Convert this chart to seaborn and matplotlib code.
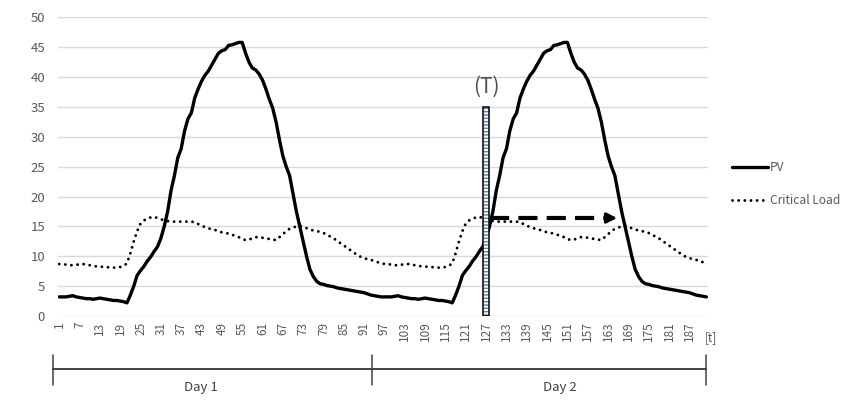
import matplotlib
matplotlib.use("Agg")
import matplotlib.pyplot as plt
from matplotlib.lines import Line2D
import numpy as np
import pandas as pd
import seaborn as sns

# one day of 15-min values (96 steps), the chart shows two identical days
pv_day = [3.2, 3.2, 3.2, 3.3, 3.4, 3.2, 3.1, 3.0, 2.9, 2.9, 2.8, 2.9, 3.0, 2.9, 2.8, 2.7,
          2.6, 2.6, 2.5, 2.4, 2.2, 3.5, 5.0, 6.8, 7.6, 8.3, 9.2, 9.9, 10.8, 11.6, 13.0, 15.0,
          17.5, 21.0, 23.5, 26.5, 28.0, 31.0, 33.0, 34.0, 36.5, 38.0, 39.3, 40.3, 41.0, 42.0,
          43.0, 44.0, 44.4, 44.6, 45.3, 45.4, 45.6, 45.8, 45.8, 44.0, 42.5, 41.5, 41.2, 40.5,
          39.5, 38.0, 36.3, 34.8, 32.5, 29.5, 26.8, 25.0, 23.5, 20.5, 17.5, 15.0, 12.5, 10.0,
          7.8, 6.6, 5.8, 5.4, 5.3, 5.1, 5.0, 4.9, 4.7, 4.6, 4.5, 4.4, 4.3, 4.2, 4.1, 4.0,
          3.9, 3.7, 3.5, 3.4, 3.3, 3.2]
load_day = [8.7, 8.7, 8.6, 8.5, 8.5, 8.6, 8.6, 8.7, 8.6, 8.5, 8.4, 8.3, 8.3, 8.2, 8.2, 8.1,
            8.1, 8.1, 8.2, 8.4, 8.8, 10.5, 12.5, 14.2, 15.5, 16.0, 16.3, 16.5, 16.6, 16.4, 16.2, 16.0,
            15.9, 15.8, 15.8, 15.8, 15.8, 15.8, 15.8, 15.8, 15.7, 15.4, 15.1, 14.9, 14.7, 14.5,
            14.4, 14.2, 14.0, 13.9, 13.8, 13.6, 13.4, 13.2, 12.9, 12.7, 12.8, 13.0, 13.2, 13.2,
            13.1, 13.0, 12.9, 12.8, 12.7, 13.2, 13.7, 14.2, 14.6, 14.8, 15.0, 15.1, 14.9, 14.7,
            14.5, 14.3, 14.2, 14.1, 13.9, 13.6, 13.3, 13.0, 12.6, 12.2, 11.8, 11.4, 11.0, 10.6,
            10.2, 9.9, 9.7, 9.5, 9.4, 9.2, 9.0, 8.9]
pv = pv_day + pv_day
critical_load = load_day + load_day
t = list(range(1, len(pv) + 1))
tick_labels = list(range(1, 193, 6))

t_event = 127      # the (T) marker
event_top = 35
arrow_y = 16.4
arrow_end = 166.5

df = pd.DataFrame({"t": t, "PV": pv, "Critical Load": critical_load})

sns.set_theme(style="white")
plt.rcParams["font.family"] = ["Noto Sans CJK KR", "DejaVu Sans"]

fig = plt.figure(figsize=(8.41, 4.12), dpi=100)
ax = fig.add_axes([0.0684, 0.233, 0.7735, 0.725])

sns.lineplot(data=df, x="t", y="PV", ax=ax, color="black", lw=2.4, label="PV")
sns.lineplot(data=df, x="t", y="Critical Load", ax=ax, color="black", lw=2.1,
             linestyle=(0, (0.01, 2.1)), dash_capstyle="round", label="Critical Load")

# event bar
ax.bar(t_event, event_top, width=1.7, color="white", edgecolor="#5f82a8", hatch="-----", lw=0, zorder=4)
ax.bar(t_event, event_top, width=1.7, fill=False, edgecolor="black", lw=1.1, zorder=5)
ax.text(t_event, event_top + 3.3, "(T)", ha="center", va="center", fontsize=15, color="#505050")

# dashed arrow
ax.plot([t_event + 1, arrow_end - 3.5], [arrow_y, arrow_y], color="black", lw=3.0,
        linestyle=(0, (4.6, 2.2)), solid_capstyle="butt", zorder=6)
ax.annotate("", xy=(arrow_end, arrow_y), xytext=(arrow_end - 4.5, arrow_y),
            arrowprops=dict(arrowstyle="-|>", color="black", lw=2.2, mutation_scale=15), zorder=6)

ax.set_xlim(0.5, 192.5)
ax.set_ylim(0, 50)
ax.set_yticks(range(0, 51, 5))
ax.set_xticks(tick_labels)
ax.set_xticklabels(tick_labels, rotation=90, va="top")
ax.tick_params(axis="x", length=0, pad=4, labelsize=8.5, labelcolor="#595959")
ax.tick_params(axis="y", length=0, pad=9, labelsize=9.5, labelcolor="#595959")
ax.yaxis.grid(True, color="#d9d9d9", lw=1)
ax.set_xlabel("")
ax.set_ylabel("")
for s in ax.spines.values():
    s.set_visible(False)

fig.text(711 / 841, 1 - 338 / 412, "[t]", ha="center", va="center", fontsize=8.5, color="#595959")

ax.legend(loc="upper left", bbox_to_anchor=(727 / 841, 1 - 156 / 412), bbox_transform=fig.transFigure,
          frameon=False, fontsize=8.6, handlelength=3.0, handletextpad=0.2, labelspacing=1.7,
          labelcolor="#595959", borderaxespad=0)

# day brackets underneath
W, H = 841, 412
def fx(x):
    return x / W
def fy(y):
    return 1 - y / H
fig.add_artist(Line2D([fx(53), fx(706)], [fy(369), fy(369)], color="#404040", lw=1.4))
for xb in (53, 372, 706):
    fig.add_artist(Line2D([fx(xb), fx(xb)], [fy(355), fy(385)], color="#404040", lw=1.1))
fig.text(fx(201), fy(388), "Day 1", ha="center", va="center", fontsize=9.5, color="#404040")
fig.text(fx(560), fy(388), "Day 2", ha="center", va="center", fontsize=9.5, color="#404040")

fig.savefig("out.png", dpi=100)
